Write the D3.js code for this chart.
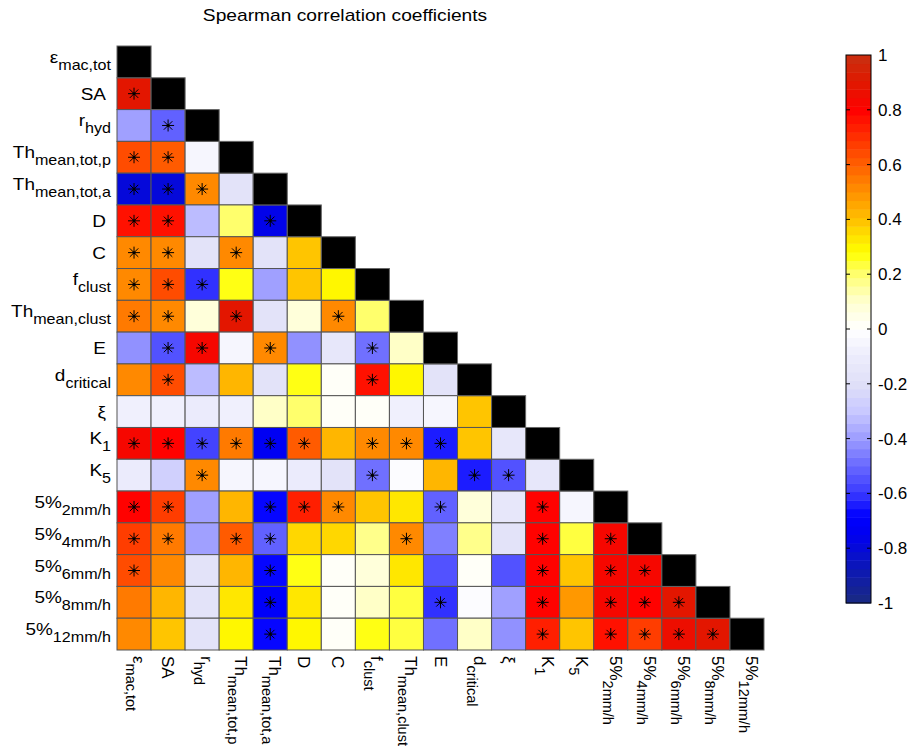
<!DOCTYPE html>
<html>
<head>
<meta charset="utf-8">
<script src="https://cdn.jsdelivr.net/npm/d3@7"></script>
<style>
  body { margin: 0; background: #fff; }
  svg text { font-family: "Liberation Sans", Arial, Helvetica, sans-serif; fill: #000; }
</style>
</head>
<body>
<div id="chart"></div>
<script>
// variable names: [main text, subscript]
const labels = [
    ['\u03b5', 'mac,tot'], ['SA', ''], ['r', 'hyd'], ['Th', 'mean,tot,p'], ['Th', 'mean,tot,a'],
    ['D', ''], ['C', ''], ['f', 'clust'], ['Th', 'mean,clust'], ['E', ''],
    ['d', 'critical'], ['\u03be', ''], ['K', '1'], ['K', '5'], ['5%', '2mm/h'],
    ['5%', '4mm/h'], ['5%', '6mm/h'], ['5%', '8mm/h'], ['5%', '12mm/h']
];

// lower triangle, row i holds columns 0..i-1
const rho = [
    [],
    [0.90],
    [-0.38, -0.53],
    [0.63, 0.60, -0.04],
    [-0.80, -0.80, 0.52, -0.18],
    [0.78, 0.78, -0.33, 0.20, -0.78],
    [0.50, 0.50, -0.17, 0.50, -0.17, 0.40],
    [0.50, 0.63, -0.60, 0.28, -0.38, 0.40, 0.30],
    [0.56, 0.50, 0.07, 0.90, -0.17, 0.07, 0.53, 0.20],
    [-0.43, -0.55, 0.82, -0.04, 0.52, -0.42, -0.15, -0.50, 0.10],
    [0.50, 0.63, -0.33, 0.42, -0.17, 0.28, 0.00, 0.78, 0.30, -0.18],
    [-0.07, -0.07, -0.10, -0.07, 0.10, 0.20, 0.00, 0.00, -0.08, -0.05, 0.38],
    [0.82, 0.80, -0.58, 0.56, -0.72, 0.60, 0.43, 0.53, 0.50, -0.64, 0.40, -0.15],
    [-0.10, -0.28, 0.53, -0.06, -0.06, -0.12, -0.18, -0.48, -0.03, 0.43, -0.64, -0.56, -0.15],
    [0.80, 0.66, -0.38, 0.43, -0.66, 0.74, 0.50, 0.38, 0.33, -0.52, 0.08, -0.15, 0.80, -0.04],
    [0.66, 0.56, -0.38, 0.60, -0.52, 0.35, 0.36, 0.16, 0.53, -0.45, 0.16, -0.18, 0.80, 0.22, 0.82],
    [0.65, 0.50, -0.18, 0.43, -0.66, 0.28, 0.00, 0.07, 0.33, -0.54, 0.00, -0.54, 0.80, 0.40, 0.82, 0.82],
    [0.56, 0.43, -0.18, 0.33, -0.70, 0.33, 0.00, 0.10, 0.22, -0.60, -0.03, -0.40, 0.80, 0.47, 0.82, 0.80, 0.90],
    [0.50, 0.40, -0.18, 0.30, -0.66, 0.30, 0.00, 0.25, 0.22, -0.50, 0.10, -0.42, 0.74, 0.40, 0.78, 0.66, 0.85, 0.90]
];

// significance flags (asterisk), same layout as rho
const sig = [
    [],
    [1],
    [0, 1],
    [1, 1, 0],
    [1, 1, 1, 0],
    [1, 1, 0, 0, 1],
    [1, 1, 0, 1, 0, 0],
    [1, 1, 1, 0, 0, 0, 0],
    [1, 1, 0, 1, 0, 0, 1, 0],
    [0, 1, 1, 0, 1, 0, 0, 1, 0],
    [0, 1, 0, 0, 0, 0, 0, 1, 0, 0],
    [0, 0, 0, 0, 0, 0, 0, 0, 0, 0, 0],
    [1, 1, 1, 1, 1, 1, 0, 1, 1, 1, 0, 0],
    [0, 0, 1, 0, 0, 0, 0, 1, 0, 0, 1, 1, 0],
    [1, 1, 0, 0, 1, 1, 1, 0, 0, 1, 0, 0, 1, 0],
    [1, 1, 0, 1, 1, 0, 0, 0, 1, 0, 0, 0, 1, 0, 1],
    [1, 0, 0, 0, 1, 0, 0, 0, 0, 0, 0, 0, 1, 0, 1, 1],
    [0, 0, 0, 0, 1, 0, 0, 0, 0, 1, 0, 0, 1, 0, 1, 1, 1],
    [0, 0, 0, 0, 1, 0, 0, 0, 0, 0, 0, 0, 1, 0, 1, 1, 1, 1]
];

const cbTicks = [1, 0.8, 0.6, 0.4, 0.2, 0, -0.2, -0.4, -0.6, -0.8, -1];

// colormap control points
const cmapStops = [-1, -0.85, -0.75, -0.68, -0.6, -0.5, -0.4, -0.3, -0.2, -0.1, 0, 0.1, 0.2, 0.28, 0.35, 0.4, 0.5, 0.6, 0.7, 0.8, 0.9, 1];
const cmapColors = ['#1a2a80', '#0a14c0', '#0000f0', '#0000ff', '#3838ff', '#6868ff', '#9c9cff', '#c8c8ff', '#e0e0f8', '#ececfc', '#ffffff',
    '#ffffd0', '#ffff70', '#ffff00', '#ffdc00', '#ffc000', '#ff9000', '#ff6000', '#ff3000', '#ff0000', '#e01800', '#c83010'];

const nLevels = 64;
const W = 910, H = 755;

const cmap = d3.scaleLinear().domain(cmapStops).range(cmapColors).interpolate(d3.interpolateRgb);
function levelColor(v) {
    const k = Math.max(0, Math.min(nLevels - 1, Math.floor((v + 1) / 2 * nLevels)));
    return cmap(-1 + (k + 0.5) * 2 / nLevels);
}

const n = labels.length;
const idx = d3.range(n);
const x = d3.scaleBand().domain(idx).range([117, 764]);
const y = d3.scaleBand().domain(idx).range([46, 650]);

const svg = d3.select('#chart').append('svg')
    .attr('width', W)
    .attr('height', H);

svg.append('text')
    .attr('transform', 'translate(345,21) scale(1.2,1)')
    .attr('text-anchor', 'middle')
    .style('font-size', '16px')
    .text('Spearman correlation coefficients');

// cells
const cells = [];
rho.forEach((row, i) => {
    row.forEach((v, j) => cells.push({ i, j, v, s: sig[i][j] }));
});

const g = svg.append('g');
g.selectAll('rect.cell')
    .data(cells)
    .join('rect')
    .attr('class', 'cell')
    .attr('x', d => x(d.j)).attr('y', d => y(d.i))
    .attr('width', x.bandwidth()).attr('height', y.bandwidth())
    .attr('fill', d => levelColor(d.v))
    .attr('stroke', '#555')
    .attr('stroke-width', 1);

g.selectAll('rect.diag')
    .data(idx)
    .join('rect')
    .attr('class', 'diag')
    .attr('x', d => x(d)).attr('y', d => y(d))
    .attr('width', x.bandwidth()).attr('height', y.bandwidth())
    .attr('fill', '#000')
    .attr('stroke', '#666')
    .attr('stroke-width', 1);

// asterisk markers
function starPath(r) {
    const p = d3.path();
    const q = r * Math.SQRT1_2;
    p.moveTo(-r, 0); p.lineTo(r, 0);
    p.moveTo(0, -r); p.lineTo(0, r);
    p.moveTo(-q, -q); p.lineTo(q, q);
    p.moveTo(-q, q); p.lineTo(q, -q);
    return p.toString();
}
const star = starPath(6);
g.selectAll('g.star')
    .data(cells.filter(d => d.s))
    .join('g')
    .attr('class', 'star')
    .attr('transform', d => `translate(${x(d.j) + x.bandwidth() / 2},${y(d.i) + y.bandwidth() / 2})`)
    .each(function () {
        const s = d3.select(this);
        s.append('path').attr('d', star).attr('stroke', '#000').attr('stroke-width', 1).attr('fill', 'none');
        s.append('circle').attr('r', 1.5).attr('fill', '#000');
    });

// label helper: main text plus lowered subscript (relative dy keeps one text chunk)
function writeLabel(sel, lab, anchor, mainSize, subSize) {
    const hasSub = lab[1] !== '';
    const t = sel.append('text')
        .attr('text-anchor', anchor)
        .attr('y', hasSub ? 1 : 6)
        .style('font-size', mainSize + 'px');
    t.append('tspan').text(lab[0]);
    if (hasSub) {
        t.append('tspan')
            .attr('dy', 7)
            .style('font-size', subSize + 'px')
            .text(lab[1]);
    }
}

// row labels (left)
idx.forEach(i => {
    const lx = labels[i][1] !== '' ? 111 : 106;
    const lg = svg.append('g')
        .attr('transform', `translate(${lx},${y(i) + y.bandwidth() / 2}) scale(1.15,1)`);
    writeLabel(lg, labels[i], 'end', 16.5, 14);
});

// column labels (bottom, rotated)
idx.forEach(j => {
    const lg = svg.append('g')
        .attr('transform', `translate(${x(j) + x.bandwidth() / 2},656) rotate(90)`);
    writeLabel(lg, labels[j], 'start', 17, 14.5);
});

// colorbar
const cbX = 846, cbW = 25;
const cy = d3.scaleLinear().domain([-1, 1]).range([603, 55]);
const levels = d3.range(nLevels).map(k => -1 + k * 2 / nLevels);
const cb = svg.append('g');
cb.selectAll('rect')
    .data(levels)
    .join('rect')
    .attr('x', cbX)
    .attr('y', d => cy(d + 2 / nLevels))
    .attr('width', cbW)
    .attr('height', d => cy(d) - cy(d + 2 / nLevels) + 0.5)
    .attr('fill', d => cmap(d + 1 / nLevels));

cb.append('rect')
    .attr('x', cbX).attr('y', cy(1))
    .attr('width', cbW).attr('height', cy(-1) - cy(1))
    .attr('fill', 'none').attr('stroke', '#000').attr('stroke-width', 1);

const axR = d3.axisRight(cy).tickValues(cbTicks).tickSize(0).tickPadding(7)
    .tickFormat(d => String(d));
const axG = cb.append('g').attr('transform', `translate(${cbX + cbW},0)`).call(axR);
axG.select('.domain').remove();
axG.selectAll('text').style('font-size', '17px').attr('fill', '#000');

cb.selectAll('line.tl')
    .data(cbTicks.filter(t => t !== 1 && t !== -1))
    .join('line')
    .attr('class', 'tl')
    .attr('x1', cbX).attr('x2', cbX + 4)
    .attr('y1', d => cy(d)).attr('y2', d => cy(d))
    .attr('stroke', '#000');
cb.selectAll('line.tr')
    .data(cbTicks.filter(t => t !== 1 && t !== -1))
    .join('line')
    .attr('class', 'tr')
    .attr('x1', cbX + cbW - 4).attr('x2', cbX + cbW)
    .attr('y1', d => cy(d)).attr('y2', d => cy(d))
    .attr('stroke', '#000');
</script>
</body>
</html>
